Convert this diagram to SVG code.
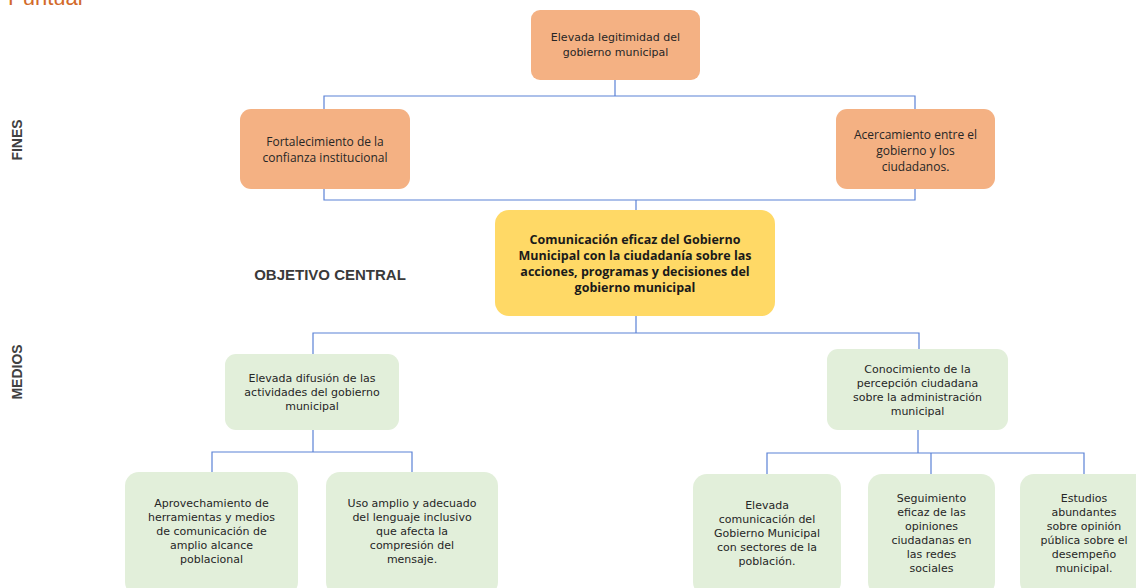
<svg xmlns="http://www.w3.org/2000/svg" width="1136" height="588" viewBox="0 0 1136 588">
<style>
.fin{fill:#f4b183}
.obj{fill:#ffd966}
.med{fill:#e2efda}
.t{font-family:"DejaVu Sans","Liberation Sans",sans-serif;font-size:11px;fill:#262626;text-anchor:middle}
.tn{font-family:"Open Sans","Liberation Sans",sans-serif;font-size:12px;fill:#262626;text-anchor:middle}
.tb{font-family:"Open Sans","Liberation Sans",sans-serif;font-size:12.5px;font-weight:bold;fill:#1a1a1a;text-anchor:middle}
.side{font-family:"Liberation Sans",sans-serif;font-size:14px;font-weight:bold;fill:#404040;text-anchor:middle}
.c{fill:none;stroke:#5b82d6;stroke-width:1.2}
</style>
<rect width="1136" height="588" fill="#ffffff"/>
<text x="8" y="5" font-family="Liberation Sans,sans-serif" font-size="22" fill="#d26a2a">Puntual</text>
<text class="side" transform="translate(22,140) rotate(-90)">FINES</text>
<text class="side" transform="translate(22,372) rotate(-90)">MEDIOS</text>
<text x="330" y="280" font-family="Liberation Sans,sans-serif" font-size="15" font-weight="bold" fill="#3a3a3a" text-anchor="middle">OBJETIVO CENTRAL</text>
<g id="connectors">
<path class="c" d="M615 80V96M324 109V96H915V109"/>
<path class="c" d="M324 189V200H915V189M636 200V211"/>
<path class="c" d="M636 316V333M313 354V333H919V349"/>
<path class="c" d="M313 430V452M212 472V452H412V472"/>
<path class="c" d="M918 430V453M767 474V453H1084V474M931 453V474"/>
</g>
<g id="n1"><rect class="fin" x="531" y="10" width="169" height="70" rx="9"/>
<text class="t"><tspan x="615.5" y="41">Elevada legitimidad del</tspan><tspan x="615.5" y="56">gobierno municipal</tspan></text></g>
<g id="n2"><rect class="fin" x="240" y="109" width="170" height="80" rx="11"/>
<text class="tn"><tspan x="325" y="146">Fortalecimiento de la</tspan><tspan x="325" y="162">confianza institucional</tspan></text></g>
<g id="n3"><rect class="fin" x="836" y="109" width="159" height="80" rx="11"/>
<text class="tn"><tspan x="915.5" y="139">Acercamiento entre el</tspan><tspan x="915.5" y="155">gobierno y los</tspan><tspan x="915.5" y="171">ciudadanos.</tspan></text></g>
<g id="n4"><rect class="obj" x="495" y="210" width="280" height="106" rx="14"/>
<text class="tb"><tspan x="635" y="244">Comunicación eficaz del Gobierno</tspan><tspan x="635" y="260">Municipal con la ciudadanía sobre las</tspan><tspan x="635" y="276">acciones, programas y decisiones del</tspan><tspan x="635" y="292">gobierno municipal</tspan></text></g>
<g id="n5"><rect class="med" x="225" y="354" width="174" height="76" rx="11"/>
<text class="t"><tspan x="312" y="382">Elevada difusión de las</tspan><tspan x="312" y="396">actividades del gobierno</tspan><tspan x="312" y="410">municipal</tspan></text></g>
<g id="n6"><rect class="med" x="827" y="349" width="181" height="81" rx="11"/>
<text class="t"><tspan x="917.5" y="373">Conocimiento de la</tspan><tspan x="917.5" y="387">percepción ciudadana</tspan><tspan x="917.5" y="401">sobre la administración</tspan><tspan x="917.5" y="415">municipal</tspan></text></g>
<g id="n7"><rect class="med" x="125" y="472" width="173" height="124" rx="14"/>
<text class="t"><tspan x="211.5" y="507">Aprovechamiento de</tspan><tspan x="211.5" y="521">herramientas y medios</tspan><tspan x="211.5" y="535">de comunicación de</tspan><tspan x="211.5" y="549">amplio alcance</tspan><tspan x="211.5" y="563">poblacional</tspan></text></g>
<g id="n8"><rect class="med" x="326" y="472" width="172" height="124" rx="14"/>
<text class="t"><tspan x="412" y="507">Uso amplio y adecuado</tspan><tspan x="412" y="521">del lenguaje inclusivo</tspan><tspan x="412" y="535">que afecta la</tspan><tspan x="412" y="549">compresión del</tspan><tspan x="412" y="563">mensaje.</tspan></text></g>
<g id="n9"><rect class="med" x="693" y="474" width="148" height="122" rx="14"/>
<text class="t"><tspan x="767" y="509">Elevada</tspan><tspan x="767" y="523">comunicación del</tspan><tspan x="767" y="537">Gobierno Municipal</tspan><tspan x="767" y="551">con sectores de la</tspan><tspan x="767" y="565">población.</tspan></text></g>
<g id="n10"><rect class="med" x="868" y="474" width="127" height="122" rx="14"/>
<text class="t"><tspan x="931.5" y="502">Seguimiento</tspan><tspan x="931.5" y="516">eficaz de las</tspan><tspan x="931.5" y="530">opiniones</tspan><tspan x="931.5" y="544">ciudadanas en</tspan><tspan x="931.5" y="558">las redes</tspan><tspan x="931.5" y="572">sociales</tspan></text></g>
<g id="n11"><rect class="med" x="1020" y="474" width="130" height="122" rx="14"/>
<text class="t"><tspan x="1084" y="502">Estudios</tspan><tspan x="1084" y="516">abundantes</tspan><tspan x="1084" y="530">sobre opinión</tspan><tspan x="1084" y="544">pública sobre el</tspan><tspan x="1084" y="558">desempeño</tspan><tspan x="1084" y="572">municipal.</tspan></text></g>
</svg>
